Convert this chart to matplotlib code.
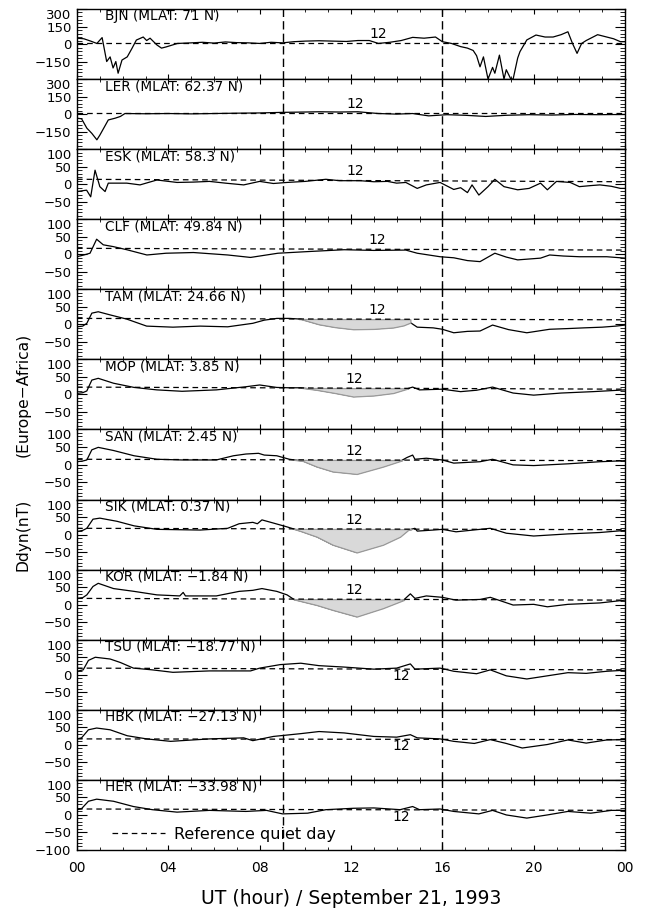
import matplotlib.pyplot as plt
import numpy as np
from matplotlib.ticker import MultipleLocator, FixedLocator, FuncFormatter

# stations, top to bottom
names = ['BJN', 'LER', 'ESK', 'CLF', 'TAM', 'MOP', 'SAN', 'SIK', 'KOR', 'TSU', 'HBK', 'HER']
mlats = ['71', '62.37', '58.3', '49.84', '24.66', '3.85', '2.45', '0.37',
         '\u22121.84', '\u221218.77', '\u221227.13', '\u221233.98']

# reference quiet day level at 00 UT and 24 UT (nT)
ref_start = [5, 7, 14, 17, 17, 21, 15, 18, 18, 19, 17, 17]
ref_end = [5, 7, 7, 12, 13, 15, 11, 14, 13, 14, 15, 13]
# hour where the "12" label sits
lab12_hour = [13.2, 12.2, 12.2, 13.15, 13.15, 12.15, 12.15, 12.15, 12.15, 14.2, 14.2, 14.2]
shaded = ['TAM', 'MOP', 'SAN', 'SIK', 'KOR']

# Ddyn curves (UT hour, nT)
bjn_t = [0, 0.3, 0.6, 0.87, 1.1, 1.3, 1.45, 1.58, 1.7, 1.8, 1.97, 2.2, 2.4, 2.6, 2.9, 3.05, 3.2, 3.5, 3.7, 3.9,
         4.4, 5.0, 5.5, 6.0, 6.5, 7.0, 7.5, 8.0, 8.5, 9.0, 9.5, 10.0, 10.6, 11.2, 11.8, 12.3, 12.8, 13.2, 13.7, 14.2,
         14.7, 15.2, 15.7, 16.0, 16.4, 16.8, 17.1, 17.35, 17.5, 17.65, 17.8, 18.0, 18.2, 18.3, 18.5, 18.7, 18.8, 19.0,
         19.1, 19.3, 19.4, 19.7, 20.1, 20.5, 20.85, 21.2, 21.5, 21.7, 21.9, 22.1, 22.3, 22.8, 23.2, 23.5, 23.8, 24.0]
bjn_v = [50, 45, 25, 5, 55, -150, -110, -205, -150, -250, -137, -110, -40, 34, 60, 30, 50, -8, -35, -25,
         5, 10, 15, 8, 18, 12, 10, 5, 15, 10, 20, 25, 28, 25, 22, 30, 30, 5, 15, 30,
         57, 50, 60, 20, 5, -22, -35, -55, -100, -195, -110, -300, -200, -250, -95, -300, -220, -300,
         -300, -120, -65, 35, 77, 60, 60, 80, 105, 5, -80, 5, 30, 80, 60, 45, 20, 20]

ler_t = [0, 0.2, 0.43, 0.65, 0.87, 1.0, 1.2, 1.37, 1.67, 1.9, 2.1, 3, 4, 5, 6, 7, 8, 9, 10, 10.6, 11.5, 12.3,
         13.2, 14.0, 14.7, 15.4, 16.2, 17.0, 17.9, 18.8, 19.8, 20.8, 21.8, 22.8, 24]
ler_v = [-35, -40, -120, -165, -220, -180, -110, -50, -35, -20, 5, 3, 5, 2, 5, 8, 10, 15, 18, 20, 18, 20,
         5, 0, 5, -15, -5, -10, -20, -10, -5, -8, -3, -5, -3]

esk_t = [0, 0.2, 0.42, 0.6, 0.79, 1.0, 1.23, 1.37, 1.58, 2.18, 2.76, 3.5, 4.38, 5.1, 5.8, 6.5, 7.3, 8.0, 8.6, 9.2,
         10.0, 10.9, 11.5, 12.4, 13.0, 13.6, 14.0, 14.4, 14.9, 15.3, 15.9, 16.5, 16.8, 17.1, 17.3, 17.6, 18.0, 18.3,
         18.7, 19.3, 19.8, 20.3, 20.6, 21.0, 21.6, 22.0, 22.5, 22.9, 23.4, 23.8, 24]
esk_v = [-21, -19, -17, -36, 40, -7, -21, 3, 3, 3, -2, 12, 5, 6, 8, 3, -2, 8, 2, 5,
         8, 14, 10, 10, 7, 8, 3, 5, -12, -2, 5, -15, -10, -24, -2, -31, -7, 14,
         -7, -16, -12, 3, -16, 8, 5, -7, -4, -2, -6, -12, -12]

clf_t = [0, 0.3, 0.57, 0.86, 1.15, 1.58, 2.18, 3.06, 3.9, 5.1, 6.6, 7.6, 8.8, 10.2, 11.7, 13.0, 14.4, 14.9, 15.9,
         16.5, 17.1, 17.65, 18.3, 18.8, 19.3, 20.3, 20.7, 21.3, 22.0, 23.2, 24]
clf_v = [-7, -2, 3, 43, 27, 22, 13, -2, 3, 5, -2, -9, 3, 8, 13, 11, 12, 3, -7,
         -10, -18, -21, 3, -8, -16, -11, -2, -5, -7, -7, -11]

tam_t = [0, 0.25, 0.43, 0.65, 0.93, 1.45, 2.18, 3.05, 4.2, 5.4, 6.6, 7.7, 8.2, 8.75, 9.3, 9.8, 10.6, 11.3, 12.1,
         13.0, 13.85, 14.3, 14.6, 14.9, 15.6, 16.0, 16.5, 17.1, 17.65, 18.2, 18.9, 19.7, 20.7, 21.5, 22.2, 23.0,
         23.6, 24]
tam_v = [-7, -5, 3, 32, 36, 27, 15, -5, -8, -5, -7, 3, 12, 17, 17, 15, 0, -8, -14,
         -13, -9, -3, 5, -8, -10, -14, -24, -20, -19, -2, -15, -24, -14, -12, -10, -8,
         -5, -2]

mop_t = [0, 0.25, 0.43, 0.65, 0.93, 1.6, 2.5, 3.5, 4.6, 6.1, 7.4, 8.0, 8.75, 9.3, 9.8, 10.5, 11.3, 12.1, 13.0,
         13.85, 14.4, 14.7, 15.0, 16.0, 16.8, 17.5, 18.2, 19.1, 20.0, 21.2, 22.6, 24]
mop_v = [3, 5, 10, 41, 46, 32, 20, 13, 9, 13, 22, 27, 20, 19, 19, 13, 4, -6, -3,
         4, 15, 21, 13, 15, 8, 12, 21, 4, -2, 4, 8, 13]

san_t = [0, 0.25, 0.43, 0.65, 0.93, 1.6, 2.5, 3.5, 4.6, 6.1, 6.85, 7.4, 7.95, 8.2, 8.75, 9.3, 9.9, 10.5, 11.2,
         12.25, 13.4, 14.2, 14.45, 14.7, 14.8, 15.3, 16.0, 16.5, 17.65, 18.2, 19.1, 20.0, 20.6, 21.5, 22.9, 24]
san_v = [8, 10, 13, 42, 49, 40, 25, 15, 13, 13, 25, 30, 32, 27, 25, 15, 10, -6, -20,
         -27, -6, 11, 20, 27, 15, 18, 13, 4, 8, 15, -1, -3, -1, 2, 8, 11]

sik_t = [0, 0.25, 0.43, 0.7, 1.0, 1.75, 2.5, 3.5, 5.4, 6.6, 7.1, 7.7, 7.9, 8.1, 8.6, 9.2, 9.8, 10.5, 11.2, 12.25,
         13.4, 14.15, 14.5, 14.8, 14.9, 15.6, 16.0, 16.6, 18.1, 18.8, 20.0, 21.5, 22.9, 24]
sik_v = [9, 12, 18, 44, 47, 38, 25, 15, 13, 18, 31, 35, 31, 42, 33, 22, 10, -6, -29, -51,
         -29, -6, 13, 18, 10, 13, 15, 8, 18, 4, -4, 2, 6, 12]

kor_t = [0, 0.25, 0.43, 0.7, 0.93, 1.6, 2.5, 3.5, 4.5, 4.65, 4.75, 6.1, 7.1, 7.7, 8.1, 8.75, 9.2, 9.5, 10.5,
         11.2, 12.25, 13.4, 14.3, 14.6, 14.8, 15.3, 16.0, 16.6, 17.65, 18.1, 19.1, 20.0, 20.6, 21.5, 22.9, 24]
kor_v = [18, 20, 28, 52, 61, 46, 38, 28, 25, 35, 25, 25, 38, 41, 46, 38, 28, 15, -1,
         -15, -34, -10, 13, 31, 18, 25, 21, 13, 15, 21, -1, 1, -6, 1, 5, 13]

tsu_t = [0, 0.27, 0.5, 0.8, 1.45, 1.9, 2.47, 3.3, 4.2, 5.8, 7.6, 8.0, 8.9, 9.8, 10.6, 11.7, 13.0, 14.0, 14.6,
         14.8, 15.9, 16.5, 17.5, 18.1, 18.8, 19.7, 20.6, 21.5, 22.3, 23.2, 24]
tsu_v = [10, 14, 41, 50, 45, 35, 19, 14, 7, 11, 11, 19, 29, 33, 26, 22, 16, 19, 31,
         16, 19, 10, 3, 14, -3, -12, -3, 6, 4, 10, 13]

hbk_t = [0, 0.2, 0.5, 0.86, 1.45, 2.2, 3.05, 4.1, 5.8, 7.3, 7.7, 8.6, 9.8, 10.6, 11.7, 13.0, 14.0, 14.6, 14.9,
         15.9, 16.5, 17.4, 18.1, 18.8, 19.5, 20.6, 21.5, 22.3, 23.2, 24]
hbk_v = [17, 20, 43, 48, 43, 26, 17, 10, 17, 20, 12, 24, 32, 38, 34, 24, 22, 29, 20,
         17, 10, 4, 15, 4, -9, 1, 14, 5, 14, 15]

her_t = [0, 0.2, 0.5, 0.86, 1.6, 2.47, 3.3, 4.38, 5.8, 7.4, 8.3, 9.0, 10.1, 10.9, 12.1, 13.0, 14.15, 14.7, 15.0,
         15.9, 16.5, 17.6, 18.2, 18.8, 19.7, 20.6, 21.5, 22.5, 23.4, 24]
her_v = [15, 18, 39, 45, 39, 24, 15, 8, 13, 10, 13, 3, 5, 15, 19, 20, 15, 24, 15,
         17, 10, 3, 13, 0, -9, 0, 10, 5, 13, 13]

times = [bjn_t, ler_t, esk_t, clf_t, tam_t, mop_t, san_t, sik_t, kor_t, tsu_t, hbk_t, her_t]
values = [bjn_v, ler_v, esk_v, clf_v, tam_v, mop_v, san_v, sik_v, kor_v, tsu_v, hbk_v, her_v]

fig, axes = plt.subplots(12, 1, figsize=(6.46, 9.08), dpi=100, sharex=True)
fig.subplots_adjust(left=0.1192, right=0.9675, top=0.9901, bottom=0.0639, hspace=0)

n = len(names)
for i in range(n):
    ax = axes[i]
    t = np.array(times[i])
    v = np.array(values[i])
    ref = [ref_start[i], ref_end[i]]

    ax.plot(t, v, color='k', lw=0.9, zorder=2)
    refline, = ax.plot([0, 24], ref, color='k', lw=0.9, ls=(0, (4.5, 3.2)), zorder=4,
                       label='Reference quiet day')

    if names[i] in shaded:
        rr = np.interp(t, [0, 24], ref)
        win = (t >= 9.5) & (t <= 14.65) & (v < rr)
        ax.fill_between(t, v, rr, where=win, interpolate=True, facecolor='#d9d9d9',
                        edgecolor='#9a9a9a', lw=0.9, zorder=3)

    # "12" label on the reference line
    h = lab12_hour[i]
    r12 = np.interp(h, [0, 24], ref)
    if i < 9:
        ax.annotate('12', xy=(h, r12), xytext=(0, 1.5), textcoords='offset points',
                    ha='center', va='bottom', fontsize=10, zorder=5)
    else:
        ax.annotate('12', xy=(h, r12), xytext=(0, 0), textcoords='offset points',
                    ha='center', va='top', fontsize=10, zorder=5)

    ax.axvline(9, color='k', lw=1.0, ls=(0, (6, 3)), zorder=1)
    ax.axvline(16, color='k', lw=1.0, ls=(0, (6, 3)), zorder=1)

    ax.text(0.051, 0.9, names[i] + ' (MLAT: ' + mlats[i] + ' N)', transform=ax.transAxes,
            va='center', ha='left', fontsize=9.8)

    if i < 2:
        ax.set_ylim(-300, 300)
        ax.yaxis.set_major_locator(FixedLocator([-150, 0, 150, 300]))
        ax.yaxis.set_minor_locator(MultipleLocator(30))
    else:
        ax.set_ylim(-100, 100)
        if i == n - 1:
            ax.yaxis.set_major_locator(FixedLocator([-100, -50, 0, 50, 100]))
        else:
            ax.yaxis.set_major_locator(FixedLocator([-50, 0, 50, 100]))
        ax.yaxis.set_minor_locator(MultipleLocator(10))
    ax.yaxis.set_major_formatter(FuncFormatter(lambda y, p: ('%d' % y).replace('-', '\u2212')))

    ax.set_xlim(0, 24)
    ax.xaxis.set_major_locator(MultipleLocator(4))
    ax.xaxis.set_minor_locator(MultipleLocator(1))

    ax.tick_params(axis='both', which='both', direction='in', top=True, right=True, labelsize=9.5)
    ax.tick_params(axis='x', labelsize=10)
    ax.tick_params(axis='y', which='major', length=7, width=0.8, pad=4)
    ax.tick_params(axis='y', which='minor', length=3.5, width=0.6)
    ax.tick_params(axis='x', which='major', length=3.5, width=0.8, pad=8)
    ax.tick_params(axis='x', which='minor', length=2, width=0.6)
    for s in ax.spines.values():
        s.set_linewidth(1.0)

    # top label sits just under the frame line
    yt = ax.yaxis.get_major_ticks()
    yt[-1].label1.set_verticalalignment('top')

    if i == n - 1:
        ax.legend(handles=[refline], loc='center left', bbox_to_anchor=(0.064, 0.22),
                  frameon=False, fontsize=11.5, handlelength=3.3, handletextpad=0.6,
                  borderpad=0, borderaxespad=0)

axes[-1].xaxis.set_major_formatter(FuncFormatter(lambda x, p: '%02d' % (int(round(x)) % 24)))
axes[-1].set_xlabel('UT (hour) / September 21, 1993', fontsize=13.5, labelpad=10)

fig.text(0.036, 1 - 395 / 908, '(Europe\u2212Africa)', rotation=90, ha='center', va='center', fontsize=11.2)
fig.text(0.036, 1 - 535 / 908, 'Ddyn(nT)', rotation=90, ha='center', va='center', fontsize=11.2)

fig.savefig('out.png', dpi=100)
plt.close(fig)
